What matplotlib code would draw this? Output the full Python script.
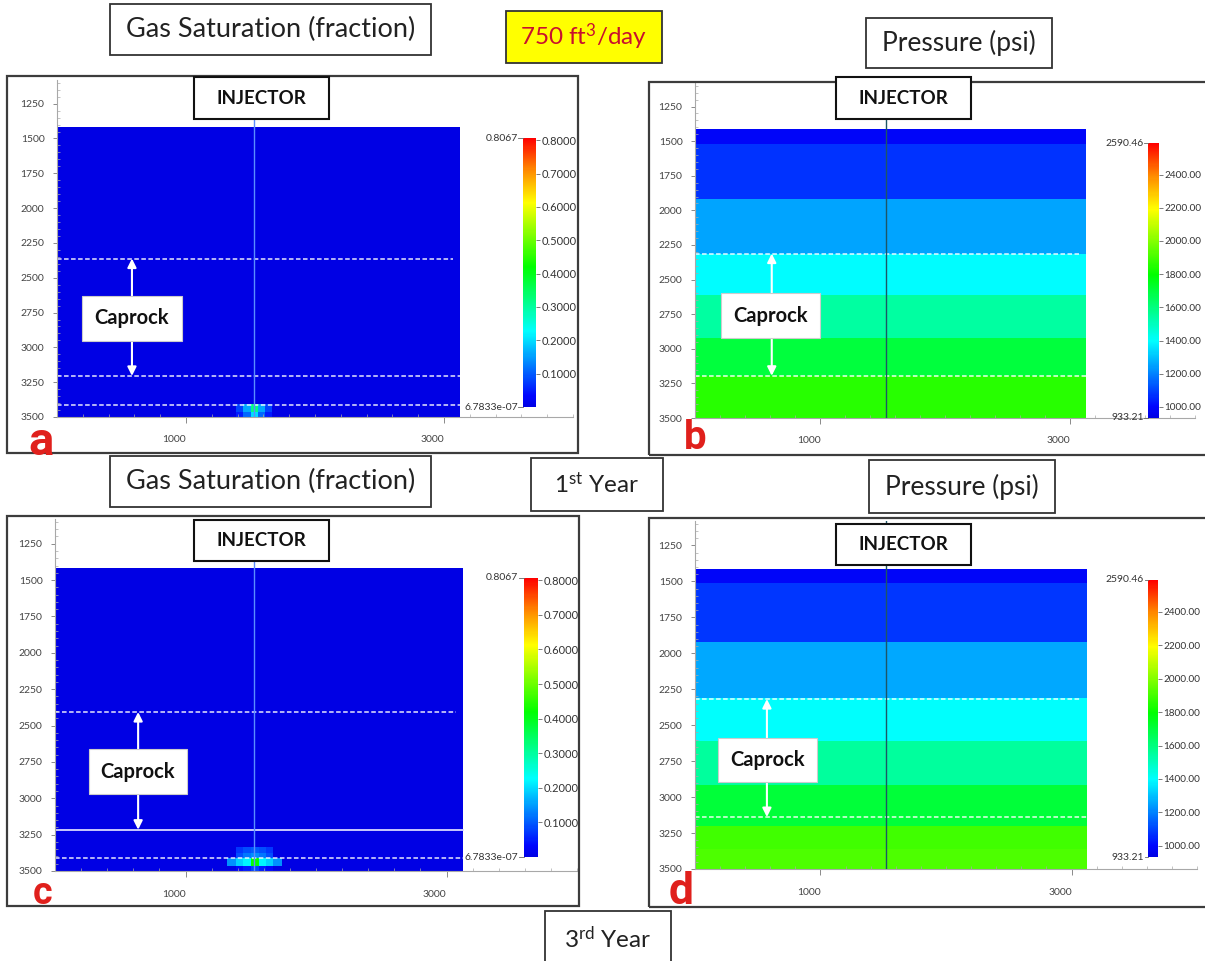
import matplotlib
matplotlib.use("Agg")
import matplotlib.pyplot as plt
from matplotlib.colors import LinearSegmentedColormap, Normalize
from matplotlib.patches import Rectangle
from matplotlib.cm import ScalarMappable
from matplotlib.ticker import MultipleLocator, FormatStrFormatter
from matplotlib.transforms import blended_transform_factory

plt.rcParams["font.family"] = ["Lato", "DejaVu Sans"]
plt.rcParams["mathtext.fontset"] = "custom"
plt.rcParams["mathtext.rm"] = "Lato"
plt.rcParams["mathtext.it"] = "Lato:italic"
plt.rcParams["mathtext.bf"] = "Lato:bold"

# ---------------- data ----------------
injector_x = 1525.0
x_tick_values = [1000, 3000]
depth_tick_values = [1250, 1500, 1750, 2000, 2250, 2500, 2750, 3000, 3250, 3500]

# gas saturation grid (locally refined around the injector)
sat_x_edges = [0, 1320, 1385, 1440, 1500, 1560, 1615, 1670, 1740, 3125]
sat_depth_edges = [1415, 3335, 3375, 3410, 3465, 3500]
sat_year1 = [
    [0, 0, 0, 0, 0, 0, 0, 0, 0],
    [0, 0, 0, 0, 0, 0, 0, 0, 0],
    [0, 0, 0, 0, 0, 0, 0, 0, 0],
    [0, 0, 0.08, 0.16, 0.32, 0.16, 0.08, 0, 0],
    [0, 0, 0.05, 0.11, 0.20, 0.11, 0.05, 0, 0],
]
sat_year3 = [
    [0, 0, 0, 0, 0, 0, 0, 0, 0],
    [0, 0, 0.07, 0.09, 0.10, 0.09, 0.07, 0, 0],
    [0, 0, 0.09, 0.12, 0.14, 0.12, 0.09, 0, 0],
    [0, 0.14, 0.19, 0.22, 0.42, 0.22, 0.19, 0.14, 0],
    [0, 0, 0.03, 0.05, 0.08, 0.05, 0.03, 0, 0],
]
sat_min, sat_max = 6.7833e-07, 0.8067
sat_ticks = [0.1, 0.2, 0.3, 0.4, 0.5, 0.6, 0.7, 0.8]

# pressure layers (psi)
pres_x_edges = [0, 3125]
pres_depth_edges_y1 = [1415, 1520, 1920, 2315, 2615, 2920, 3200, 3500]
pres_year1 = [985, 1075, 1255, 1395, 1545, 1700, 1855]
pres_depth_edges_y3 = [1415, 1512, 1918, 2311, 2613, 2914, 3204, 3360, 3500]
pres_year3 = [990, 1080, 1260, 1400, 1550, 1705, 1895, 1915]
pres_min, pres_max = 933.21, 2590.46
pres_ticks = [1000, 1200, 1400, 1600, 1800, 2000, 2200, 2400]

# caprock markers: (top line, base line, lower line or None)
caprock_a = (2362, 3205, 3414)
caprock_b = (2312, 3195, None)
caprock_c = (2407, 3216, 3411)
caprock_d = (2318, 3139, None)

# ---------------- figure ----------------
W, H = 1205, 961
fig = plt.figure(figsize=(W / 100, H / 100), dpi=100)
fig.patch.set_facecolor("white")

cmap = LinearSegmentedColormap.from_list(
    "rainbow_pv",
    [(0.0, "#0000e4"), (0.04, "#0006ff"), (0.28, "#00ffff"), (0.52, "#00ff00"),
     (0.76, "#ffff00"), (0.88, "#ff8c00"), (1.0, "#ff0000")],
)
sat_norm = Normalize(sat_min, sat_max)
pres_norm = Normalize(pres_min, pres_max)


def px_rect(x0, y0, x1, y1):
    return [x0 / W, 1 - y1 / H, (x1 - x0) / W, (y1 - y0) / H]


def fig_box(x0, y0, x1, y1, fc="white", ec="#333333", lw=1.3, z=5):
    fig.add_artist(Rectangle((x0 / W, 1 - y1 / H), (x1 - x0) / W, (y1 - y0) / H,
                             transform=fig.transFigure, fc=fc, ec=ec, lw=lw, zorder=z))


def fig_label(x0, y0, x1, y1, text, size, weight="normal", color="#222222",
              fc="white", ec="#333333", lw=1.3, dy=0):
    fig_box(x0, y0, x1, y1, fc=fc, ec=ec, lw=lw)
    fig.text((x0 + x1) / 2 / W, 1 - ((y0 + y1) / 2 + dy) / H, text, ha="center",
             va="center", fontsize=size, fontweight=weight, color=color, zorder=6)


def setup_axes(ax):
    ax.set_xlim(0, 4000)
    ax.set_ylim(3500, 1080)
    ax.set_facecolor("none")
    for s in ("top", "right"):
        ax.spines[s].set_visible(False)
    for s in ("left", "bottom"):
        ax.spines[s].set_color("#a8a8a8")
        ax.spines[s].set_linewidth(0.8)
    ax.set_yticks(depth_tick_values)
    ax.set_xticks(x_tick_values, labels=["", ""])
    ax.yaxis.set_minor_locator(MultipleLocator(50))
    ax.xaxis.set_minor_locator(MultipleLocator(200))
    ax.tick_params(axis="y", which="major", labelsize=7.5, length=3, width=0.6,
                   color="#777777", labelcolor="#444444", pad=6)
    ax.tick_params(axis="x", which="major", length=4, width=0.6, color="#777777")
    ax.tick_params(which="minor", length=2, width=0.5, direction="in", color="#aaaaaa")
    tr = blended_transform_factory(ax.transData, ax.transAxes)
    for v in x_tick_values:
        ax.text(v - 90, -0.068, str(v), transform=tr, ha="center", va="center",
                fontsize=7.5, color="#444444")


def add_cbar(box, norm, ticks, fmt, top_label, bottom_label, size):
    cax = fig.add_axes(px_rect(*box))
    cb = fig.colorbar(ScalarMappable(norm=norm, cmap=cmap), cax=cax)
    cb.outline.set_visible(False)
    cb.set_ticks(ticks)
    cax.yaxis.set_major_formatter(FormatStrFormatter(fmt))
    cax.tick_params(labelsize=size, length=3, width=0.6, color="#666666",
                    labelcolor="#333333", pad=1)
    for yy, lab in ((1.0, top_label), (0.0, bottom_label)):
        cax.plot([-0.35, 0], [yy, yy], transform=cax.transAxes, clip_on=False,
                 color="#666666", lw=0.6)
        cax.text(-0.4, yy, lab, transform=cax.transAxes, ha="right", va="center",
                 fontsize=7.5, color="#333333")


def caprock_marks(ax, marks, arrow_x, box_top, box_bot, solid_base=False, inj_color="#5a8cff"):
    top, base, lower = marks
    dash = dict(color="white", lw=1.1, ls=(0, (3, 1.6)), alpha=0.9)
    ax.plot([0, 3070], [top, top], **dash)
    if solid_base:
        ax.plot([0, 3125], [base, base], color="#d8d8ff", lw=1.3)
    else:
        ax.plot([0, 3125], [base, base], **dash)
    if lower is not None:
        ax.plot([0, 3125], [lower, lower], **dash)
    arrow = dict(arrowstyle="-|>", color="white", lw=1.5, mutation_scale=13,
                 shrinkA=0, shrinkB=0)
    ax.annotate("", xy=(arrow_x, top), xytext=(arrow_x, box_top), arrowprops=arrow)
    ax.annotate("", xy=(arrow_x, base), xytext=(arrow_x, box_bot), arrowprops=arrow)
    ax.plot([injector_x, injector_x], [1080, 3500], color=inj_color, lw=1.0, zorder=3)


# ---- panel a : gas saturation, year 1
fig_box(7, 76, 578, 453, fc="none", ec="#3c3c3c", lw=1.6)
ax_a = fig.add_axes(px_rect(57, 80, 573, 417))
setup_axes(ax_a)
ax_a.pcolormesh(sat_x_edges, sat_depth_edges, sat_year1, cmap=cmap, norm=sat_norm,
                shading="flat", zorder=1)
caprock_marks(ax_a, caprock_a, 581, 2636, 2957)
add_cbar((523, 138, 536, 407), sat_norm, sat_ticks, "%.4f", "0.8067", "6.7833e-07", 8)

# ---- panel b : pressure, year 1
fig_box(649, 82, 1215, 455, fc="none", ec="#3c3c3c", lw=1.6)
ax_b = fig.add_axes(px_rect(695, 83, 1195, 418))
setup_axes(ax_b)
ax_b.pcolormesh(pres_x_edges, pres_depth_edges_y1, [[p] for p in pres_year1], cmap=cmap,
                norm=pres_norm, shading="flat", zorder=1)
caprock_marks(ax_b, caprock_b, 614, 2597, 2923, inj_color="#1d5666")
add_cbar((1148, 143, 1159, 418), pres_norm, pres_ticks, "%.2f", "2590.46", "933.21", 7.2)

# ---- panel c : gas saturation, year 3
fig_box(7, 516, 579, 906, fc="none", ec="#3c3c3c", lw=1.6)
ax_c = fig.add_axes(px_rect(55, 519, 577, 871))
setup_axes(ax_c)
ax_c.pcolormesh(sat_x_edges, sat_depth_edges, sat_year3, cmap=cmap, norm=sat_norm,
                shading="flat", zorder=1)
caprock_marks(ax_c, caprock_c, 637, 2663, 2972, solid_base=True)
add_cbar((524, 578, 538, 857), sat_norm, sat_ticks, "%.4f", "0.8067", "6.7833e-07", 8)

# ---- panel d : pressure, year 3
fig_box(649, 518, 1215, 907, fc="none", ec="#3c3c3c", lw=1.6)
ax_d = fig.add_axes(px_rect(695, 521, 1197, 869))
setup_axes(ax_d)
ax_d.pcolormesh(pres_x_edges, pres_depth_edges_y3, [[p] for p in pres_year3], cmap=cmap,
                norm=pres_norm, shading="flat", zorder=1)
caprock_marks(ax_d, caprock_d, 573, 2587, 2893, inj_color="#1d5666")
add_cbar((1148, 580, 1158, 857), pres_norm, pres_ticks, "%.2f", "2590.46", "933.21", 7.2)

# ---- annotation boxes
for box in ((194, 77, 329, 119), (836, 77, 971, 119), (194, 520, 329, 561), (836, 524, 971, 565)):
    fig_label(*box, "INJECTOR", 13.5, weight="bold", color="#111111", ec="#111111", lw=1.5)
for box in ((82, 296, 182, 341), (721, 293, 820, 338), (89, 749, 187, 794), (718, 738, 817, 782)):
    fig_label(*box, "Caprock", 14.5, weight="bold", color="#111111", ec="#cccccc", lw=0.8)

fig_label(110, 4, 431, 55, "Gas Saturation (fraction)", 19.5)
fig_label(110, 456, 431, 507, "Gas Saturation (fraction)", 19.5)
fig_label(866, 18, 1052, 68, "Pressure (psi)", 19)
fig_label(869, 460, 1055, 513, "Pressure (psi)", 19)
fig_label(506, 11, 662, 63, r"750 ft$^{3}$/day", 17.5, color="#c8102e", fc="#ffff00")
fig_label(531, 458, 663, 511, r"1$^{\mathrm{st}}$ Year", 17.5)
fig_label(545, 911, 671, 975, r"3$^{\mathrm{rd}}$ Year", 17.5, dy=-4)

# ---- panel letters
for (x, y, s, size) in ((41, 442, "a", 34), (695, 438, "b", 29), (43, 893, "c", 27), (681, 892, "d", 32)):
    fig.text(x / W, 1 - y / H, s, ha="center", va="center", fontsize=size,
             fontweight="bold", color="#e0201c", family="Roboto", zorder=7)

fig.savefig("out.png", dpi=100, facecolor="white")
